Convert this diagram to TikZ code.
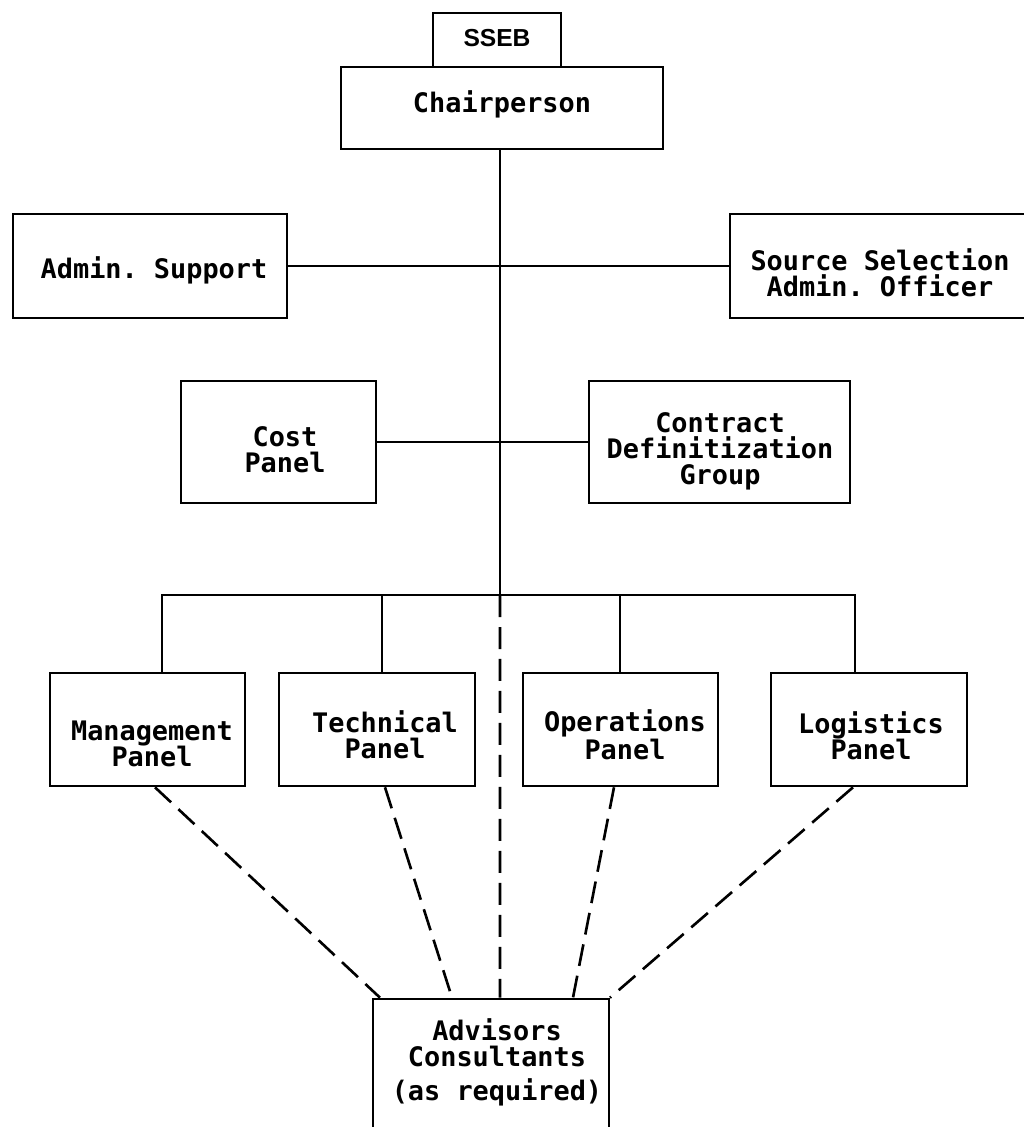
\documentclass[tikz,border=0pt]{standalone}
\usepackage{fontspec}
\setmonofont{DejaVu Sans Mono}
\newfontfamily\ssebfont{Liberation Sans}
\begin{document}
\begin{tikzpicture}[
  x={(0.02cm,0)}, y={(0,-0.02cm)},
  line width=1.5pt,
  box/.style={draw, rectangle, inner sep=0pt},
  lbl/.style={font=\ttfamily\bfseries\fontsize{15.3}{14.8}\selectfont, align=center, inner sep=0pt},
  link/.style={dash pattern=on 0.44cm off 0.2cm}
]
\useasboundingbox (0,0) rectangle (1024,1127);
\clip (0,0) rectangle (1024,1127);

% board heading
\node[box, minimum width=2.56cm, minimum height=1.08cm] (sseb) at (497,40) {};
\node[font=\ssebfont\bfseries\fontsize{14}{14}\selectfont, inner sep=0pt] (sseb-t) at (497,38) {SSEB};

\node[box, minimum width=6.44cm, minimum height=1.64cm] (chair) at (502,108) {};
\node[lbl] (chair-t) at (502,104) {Chairperson};

% staff level
\node[box, minimum width=5.48cm, minimum height=2.08cm] (admin) at (150,266) {};
\node[lbl] (admin-t) at (154,270) {Admin. Support};

\node[box, minimum width=6.04cm, minimum height=2.08cm] (ssao) at (881,266) {};
\node[lbl] (ssao-t) at (880,273) {Source Selection\\Admin. Officer};

% cost and contract level
\node[box, minimum width=3.9cm, minimum height=2.44cm] (cost) at (278.5,442) {};
\node[lbl] (cost-t) at (285,450) {Cost\\Panel};

\node[box, minimum width=5.22cm, minimum height=2.44cm] (cdg) at (719.5,442) {};
\node[lbl] (cdg-t) at (720,451) {Contract\\Definitization\\Group};

% evaluation panels
\node[box, minimum width=3.9cm, minimum height=2.26cm] (mgmt) at (147.5,729.5) {};
\node[lbl] (mgmt-t) at (152,744) {Management\\Panel};

\node[box, minimum width=3.92cm, minimum height=2.26cm] (tech) at (377,729.5) {};
\node[lbl] (tech-t) at (385,735) {Technical\\Panel};

\node[box, minimum width=3.9cm, minimum height=2.26cm] (oper) at (620.5,729.5) {};
\node[lbl] (oper-t) at (625,735) {Operations\\Panel};

\node[box, minimum width=3.92cm, minimum height=2.26cm] (logi) at (869,729.5) {};
\node[lbl] (logi-t) at (871,736) {Logistics\\Panel};

% advisors
\node[box, minimum width=4.72cm, minimum height=3.2cm] (adv) at (491,1079) {};
\node[lbl] (adv-t) at (497,1062) {Advisors\\Consultants\\[4.5pt](as required)};

% main spine and branches
\coordinate (spine) at (500,595);
\draw (chair.south -| spine) -- (spine);
\draw (admin.east) -- (ssao.west);
\draw (cost.east) -- (cdg.west);

\path ([xshift=0.29cm]mgmt.north) coordinate (mTop)
      ([xshift=0.1cm]tech.north) coordinate (tTop)
      ([xshift=-0.01cm]oper.north) coordinate (oTop)
      ([xshift=-0.28cm]logi.north) coordinate (lTop);
\draw (mTop) -- (mTop |- spine) -- (lTop |- spine) -- (lTop);
\draw (tTop) -- (tTop |- spine);
\draw (oTop) -- (oTop |- spine);

% advisory links
\draw[link] (spine) -- ([xshift=0.18cm]adv.north);
\draw[link] ([xshift=0.15cm]mgmt.south) -- ([xshift=-2.22cm]adv.north);
\draw[link] ([xshift=0.16cm]tech.south) -- ([xshift=-0.78cm]adv.north);
\draw[link] ([xshift=-0.13cm]oper.south) -- ([xshift=1.64cm]adv.north);
\draw[link] ([xshift=-0.32cm]logi.south) -- ([xshift=2.38cm]adv.north);
\end{tikzpicture}
\end{document}
